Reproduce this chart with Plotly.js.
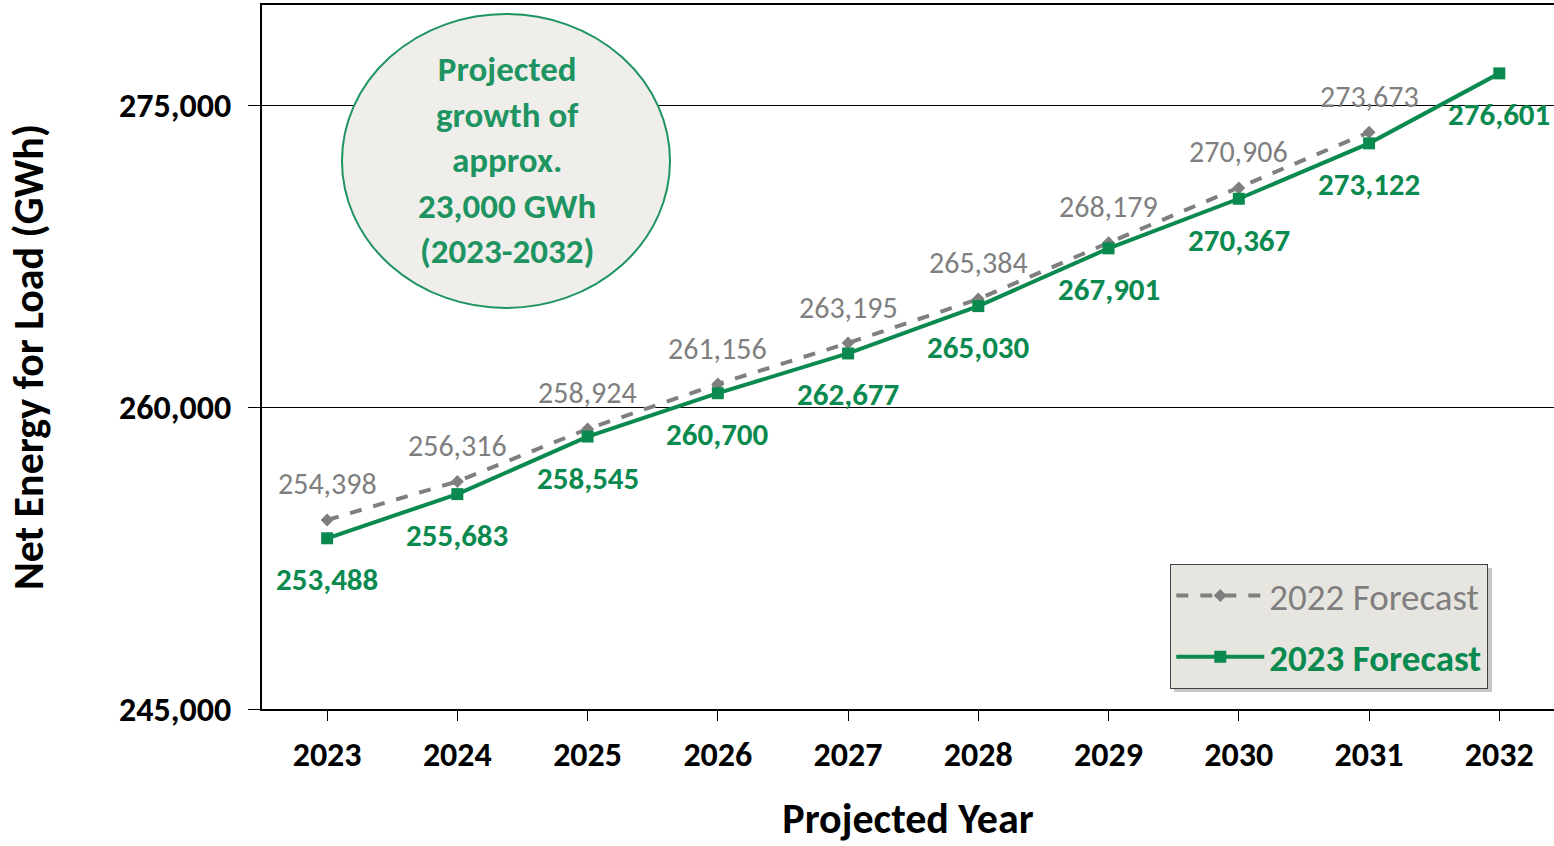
<!DOCTYPE html>
<html>
<head>
<meta charset="utf-8">
<script src="https://cdn.plot.ly/plotly-3.0.1.min.js"></script>
<style>
html,body{margin:0;padding:0;background:#fff;}
#chart{width:1554px;height:846px;}
</style>
</head>
<body>
<div id="chart"></div>
<script>
const years = [2023, 2024, 2025, 2026, 2027, 2028, 2029, 2030, 2031, 2032];
const forecast2022Years = [2023, 2024, 2025, 2026, 2027, 2028, 2029, 2030, 2031];
const forecast2022 = [254398, 256316, 258924, 261156, 263195, 265384, 268179, 270906, 273673];
const forecast2023 = [253488, 255683, 258545, 260700, 262677, 265030, 267901, 270367, 273122, 276601];
const yTicks = [245000, 260000, 275000];
const seriesNames = ["2022 Forecast", "2023 Forecast"];
const calloutText = "Projected<br>growth of<br>approx.<br>23,000 GWh<br>(2023-2032)";

const GRAY = "#7f7f7f";
const GREEN = "#0a8a4f";
const FONT = "Carlito, Lato, 'Open Sans', sans-serif";

const fmt = v => v.toLocaleString("en-US");

const traces = [
  {
    x: forecast2022Years, y: forecast2022,
    name: "<span style='color:" + GRAY + "'>" + seriesNames[0] + "</span>",
    type: "scatter", mode: "lines+markers", legendgroup: "a",
    line: {color: GRAY, width: 4, dash: "dash"},
    marker: {symbol: "diamond", size: 10, color: GRAY}
  },
  {
    x: years, y: forecast2023,
    name: "<span style='color:" + GREEN + "'><b>" + seriesNames[1] + "</b></span>",
    type: "scatter", mode: "lines+markers", legendgroup: "b",
    line: {color: GREEN, width: 4},
    marker: {symbol: "square", size: 12, color: GREEN}
  }
];

const annotations = [];
forecast2022.forEach((v, i) => {
  annotations.push({x: forecast2022Years[i], y: v, xref: "x", yref: "y", text: fmt(v),
    showarrow: false, yshift: 36, xanchor: "center", yanchor: "middle",
    font: {family: FONT, size: 30, color: GRAY}});
});
forecast2023.forEach((v, i) => {
  annotations.push({x: years[i], y: v, xref: "x", yref: "y", text: "<b>" + fmt(v) + "</b>",
    showarrow: false, yshift: -41, xanchor: "center", yanchor: "middle",
    font: {family: FONT, size: 31, color: GREEN}});
});
annotations.push({x: 0.190, y: 0.780, xref: "paper", yref: "paper", text: "<b>" + calloutText + "</b>",
  showarrow: false, xanchor: "center", yanchor: "middle", align: "center",
  font: {family: FONT, size: 35, color: "#1e9462"}});

const layout = {
  width: 1554, height: 846,
  margin: {l: 262, r: 0, t: 5, b: 137},
  paper_bgcolor: "#ffffff", plot_bgcolor: "#ffffff",
  font: {family: FONT, color: "#000"},
  showlegend: true,
  legend: {
    x: 0.703, y: 0.206, xanchor: "left", yanchor: "top",
    bgcolor: "#e7e5df", bordercolor: "#404040", borderwidth: 1,
    font: {family: FONT, size: 37},
    itemwidth: 88,
    tracegroupgap: 10, traceorder: "grouped"
  },
  xaxis: {
    range: [2022.5, 2032.42], tickmode: "array", tickvals: years, ticktext: years.map(String),
    showgrid: false, zeroline: false,
    showline: true, linecolor: "#000", linewidth: 2, mirror: true,
    ticks: "outside", ticklen: 10, tickcolor: "#000", tickwidth: 1,
    ticklabelstandoff: 4,
    tickfont: {family: FONT, size: 34, color: "#000", weight: "bold"},
    title: {text: "<b>Projected Year</b>", font: {family: FONT, size: 42, color: "#000"}, standoff: 30}
  },
  yaxis: {
    range: [245000, 280000], tickmode: "array", tickvals: yTicks, ticktext: yTicks.map(fmt),
    showgrid: true, gridcolor: "#000", gridwidth: 1, zeroline: false,
    showline: true, linecolor: "#000", linewidth: 2,
    ticks: "outside", ticklen: 12, tickcolor: "#000", tickwidth: 1,
    ticklabelstandoff: 10,
    tickfont: {family: FONT, size: 34, color: "#000", weight: "bold"},
    title: {text: "<b>Net Energy for Load (GWh)</b>", font: {family: FONT, size: 42, color: "#000"}, standoff: 62}
  },
  shapes: [
    {type: "circle", xref: "paper", yref: "paper", x0: 0.0619, x1: 0.3158, y0: 0.5696, y1: 0.9872,
     fillcolor: "#efeeea", line: {color: "#1e9462", width: 2}, layer: "above"},
    {type: "rect", xref: "paper", yref: "paper", x0: 0.7059, x1: 0.9520, y0: 0.0241, y1: 0.2003,
     fillcolor: "rgba(0,0,0,0.22)", line: {width: 0}, layer: "above"}
  ],
  annotations: annotations
};

Plotly.newPlot("chart", traces, layout, {displayModeBar: false, staticPlot: true});
</script>
</body>
</html>
